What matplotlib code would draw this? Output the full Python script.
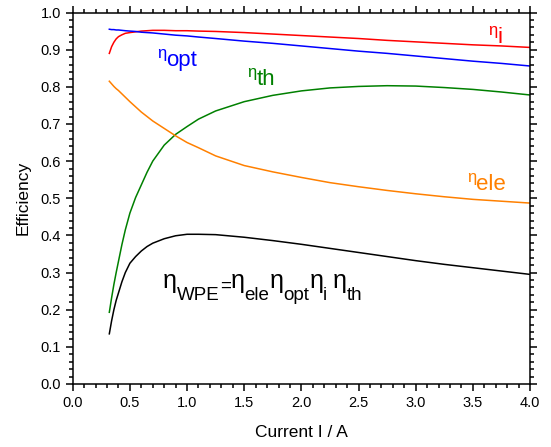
import matplotlib
matplotlib.use('Agg')
import matplotlib.pyplot as plt
from matplotlib.transforms import offset_copy
from matplotlib.ticker import MultipleLocator

plt.rcParams['font.family'] = ['Liberation Sans', 'DejaVu Sans']

current = [0.32, 0.34, 0.36, 0.38, 0.40, 0.43, 0.46, 0.50, 0.55, 0.60,
           0.65, 0.70, 0.80, 0.90, 1.0, 1.1, 1.25, 1.5, 1.75, 2.0,
           2.25, 2.5, 2.75, 3.0, 3.25, 3.5, 3.75, 4.0]

eta_i = [0.890, 0.908, 0.920, 0.929, 0.935, 0.940, 0.944, 0.946, 0.948, 0.950,
         0.951, 0.952, 0.952, 0.951, 0.951, 0.950, 0.949, 0.946, 0.942, 0.938,
         0.934, 0.930, 0.925, 0.921, 0.917, 0.913, 0.910, 0.906]
eta_opt = [0.955, 0.954, 0.954, 0.953, 0.953, 0.952, 0.951, 0.950, 0.949, 0.947,
           0.946, 0.945, 0.942, 0.939, 0.937, 0.934, 0.930, 0.923, 0.917, 0.910,
           0.903, 0.896, 0.890, 0.883, 0.876, 0.869, 0.863, 0.856]
eta_th = [0.193, 0.232, 0.268, 0.300, 0.330, 0.375, 0.415, 0.460, 0.502, 0.536,
          0.570, 0.600, 0.643, 0.672, 0.693, 0.713, 0.735, 0.760, 0.777, 0.789,
          0.797, 0.801, 0.803, 0.802, 0.798, 0.793, 0.786, 0.778]
eta_ele = [0.815, 0.808, 0.801, 0.795, 0.790, 0.781, 0.772, 0.760, 0.746, 0.732,
           0.720, 0.708, 0.688, 0.668, 0.650, 0.636, 0.614, 0.588, 0.571, 0.556,
           0.542, 0.531, 0.521, 0.512, 0.504, 0.497, 0.492, 0.487]
eta_wpe = [0.135, 0.170, 0.200, 0.225, 0.245, 0.275, 0.300, 0.325, 0.343, 0.358,
           0.370, 0.379, 0.391, 0.399, 0.403, 0.403, 0.402, 0.395, 0.386, 0.376,
           0.365, 0.354, 0.343, 0.332, 0.322, 0.313, 0.304, 0.295]

fig = plt.figure(figsize=(5.51, 4.47), dpi=100)
ax = fig.add_axes([0.132, 0.141, 0.830, 0.831])

lw = 1.1
ax.plot(current, eta_i, color='#ff0000', lw=lw)
ax.plot(current, eta_opt, color='#0000ff', lw=lw)
ax.plot(current, eta_th, color='#008000', lw=lw)
ax.plot(current, eta_ele, color='#ff8000', lw=lw)
ax.plot(current, eta_wpe, color='black', lw=lw)

ax.set_xlim(0, 4)
ax.set_ylim(0, 1)
ax.xaxis.set_major_locator(MultipleLocator(0.5))
ax.xaxis.set_minor_locator(MultipleLocator(0.1))
ax.yaxis.set_major_locator(MultipleLocator(0.1))
ax.yaxis.set_minor_locator(MultipleLocator(0.02))
ax.tick_params(which='both', direction='out', top=True, right=True,
               labeltop=False, labelright=False, width=1.1, labelsize=10.5)
ax.tick_params(which='major', length=5)
ax.tick_params(which='minor', length=3)
for sp in ax.spines.values():
    sp.set_linewidth(1.1)

ax.set_xlabel('Current I / A', fontsize=12.5, labelpad=11)
ax.set_ylabel('Efficiency', fontsize=12.5, labelpad=7)

renderer = fig.canvas.get_renderer()


def chain(x, y, parts, color):
    # parts: (text, fontsize, vertical offset in points)
    dx = 0.0
    for s, size, dy in parts:
        tr = offset_copy(ax.transData, fig=fig, x=dx, y=dy, units='points')
        t = ax.text(x, y, s, fontsize=size, color=color, transform=tr,
                    ha='left', va='baseline')
        dx += t.get_window_extent(renderer).width * 72.0 / fig.dpi


def small_label(x, y, sub, color):
    chain(x, y, [('η', 12, 5.8), (sub, 16, 0)], color)


small_label(0.737, 0.855, 'opt', '#0000ff')
small_label(1.525, 0.805, 'th', '#008000')
small_label(3.633, 0.918, 'i', '#ff0000')
small_label(3.45, 0.523, 'ele', '#ff8000')

sub_dy = -8.6
chain(0.79, 0.259, [('η', 18, 0), ('WPE', 13.5, sub_dy), ('=', 13.5, -2.5),
                    ('η', 18, 0), ('ele', 13.5, sub_dy),
                    ('η', 18, 0), ('opt', 13.5, sub_dy),
                    ('η', 18, 0), ('i ', 13.5, sub_dy),
                    ('η', 18, 0), ('th', 13.5, sub_dy)], 'black')

fig.savefig('out.png', dpi=100)
